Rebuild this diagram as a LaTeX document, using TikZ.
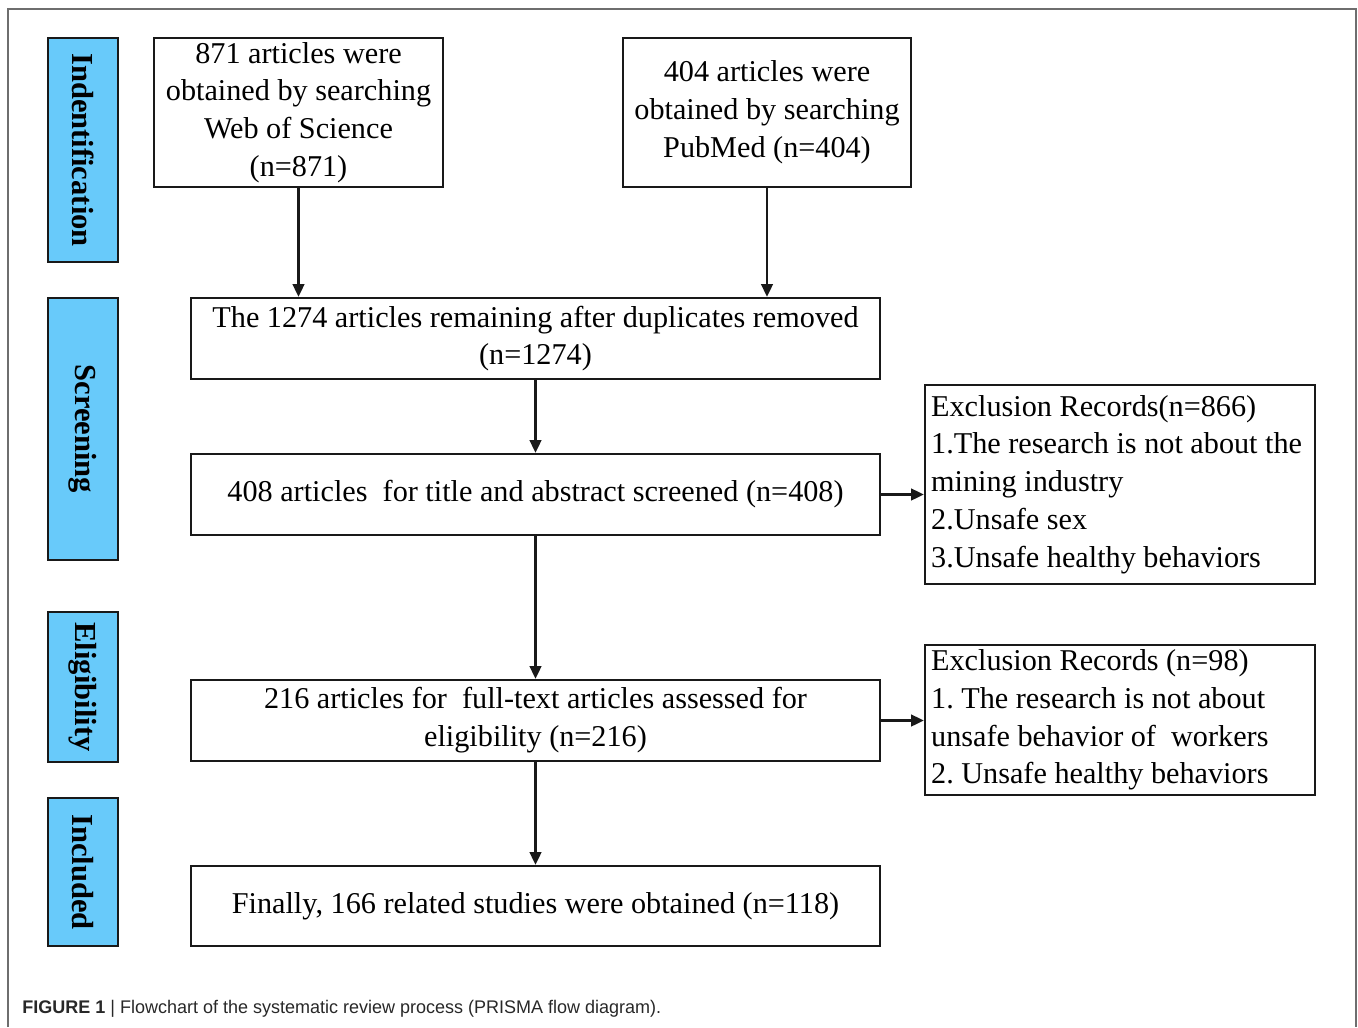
\documentclass[tikz,border=0pt]{standalone}
\usepackage{fontspec}
\setmainfont{Liberation Serif}
\newfontfamily\capfont{Liberation Sans}
\usetikzlibrary{arrows.meta,calc}
\frenchspacing
\newlength{\upx}
\setlength{\upx}{0.02cm}
\definecolor{sideblue}{RGB}{104,202,250}
\definecolor{boxline}{RGB}{25,25,25}
\definecolor{framegray}{RGB}{110,110,110}
\definecolor{capgray}{RGB}{40,40,40}
\tikzset{
  flowbox/.style={draw=boxline, line width=2.4\upx, align=center, inner sep=0pt,
    font=\fontsize{17.2}{21.5}\selectfont},
  exclbox/.style={draw=boxline, line width=2.4\upx, inner sep=0pt},
  excltext/.style={align=left, inner sep=0pt, anchor=west,
    font=\fontsize{17.2}{21.5}\selectfont},
  sidebox/.style={draw=boxline, line width=2.6\upx, fill=sideblue, rotate=-90,
    inner sep=0pt, minimum height=70\upx, font=\bfseries\fontsize{17.4}{20}\selectfont},
  flowarrow/.style={draw=boxline, line width=2.3\upx, -{Triangle[length=7.2pt, width=6.6pt]}}
}
\begin{document}
\begin{tikzpicture}[x=1\upx, y=-1\upx]
\useasboundingbox (0,0) rectangle (1358,1027);
% outer frame
\draw[framegray, line width=2\upx] (8,1027) -- (8,9) -- (1356,9) -- (1356,1027);

% side labels
\node[sidebox, minimum width=224\upx] (sid) at (83,150) {Indentification};
\node[sidebox, minimum width=262\upx] (sscr) at (83,429) {Screening};
\node[sidebox, minimum width=150\upx] (selg) at (83,687) {Eligibility};
\node[sidebox, minimum width=148\upx] (sinc) at (83,872) {Included};

% main boxes
\node[flowbox, minimum width=289\upx, minimum height=149\upx] (wos) at (298.5,112.5)
  {871 articles were\\obtained by searching\\Web of Science\\(n=871)};
\node[flowbox, minimum width=288\upx, minimum height=149\upx] (pub) at (767,112.5)
  {404 articles were\\obtained by searching\\PubMed (n=404)};
\node[flowbox, minimum width=689\upx, minimum height=81\upx] (dup) at (535.5,338.5)
  {The 1274 articles remaining after duplicates removed\\(n=1274)};
\node[flowbox, minimum width=689\upx, minimum height=81\upx] (scr) at (535.5,494.5)
  {408 articles\ \ for title and abstract screened (n=408)};
\node[flowbox, minimum width=689\upx, minimum height=81\upx] (elg) at (535.5,720.5)
  {216 articles for\ \ full-text articles assessed for\\eligibility (n=216)};
\node[flowbox, minimum width=689\upx, minimum height=80\upx] (fin) at (535.5,906)
  {Finally, 166 related studies were obtained (n=118)};

% exclusion boxes
\node[exclbox, minimum width=390\upx, minimum height=199\upx] (ex1) at (1120,484.5) {};
\node[excltext] (ex1t) at ($(ex1.west)+(7,0)$)
  {Exclusion Records(n=866)\\1.The research is not about the\\mining industry\\2.Unsafe sex\\3.Unsafe healthy behaviors};
\node[exclbox, minimum width=390\upx, minimum height=150\upx] (ex2) at (1120,720) {};
\node[excltext] (ex2t) at ($(ex2.west)+(7,0)$)
  {Exclusion Records (n=98)\\1. The research is not about\\unsafe behavior of\ \ workers\\2. Unsafe healthy behaviors};

% connectors
\draw[flowarrow] (wos.south) -- (wos.south |- dup.north);
\draw[flowarrow] (pub.south) -- (pub.south |- dup.north);
\draw[flowarrow] (dup.south) -- (scr.north);
\draw[flowarrow] (scr.south) -- (elg.north);
\draw[flowarrow] (elg.south) -- (fin.north);
\draw[flowarrow] (scr.east) -- (scr.east -| ex1.west);
\draw[flowarrow] (elg.east) -- (elg.east -| ex2.west);

% caption
\node[anchor=base west, inner sep=0pt, text=capgray, font=\capfont\fontsize{10.4}{12}\selectfont] (cap) at (22,1013)
  {\scalebox{0.985}[1]{\textbf{FIGURE 1} | Flowchart of the systematic review process (PRISMA flow diagram).}};
\end{tikzpicture}
\end{document}
